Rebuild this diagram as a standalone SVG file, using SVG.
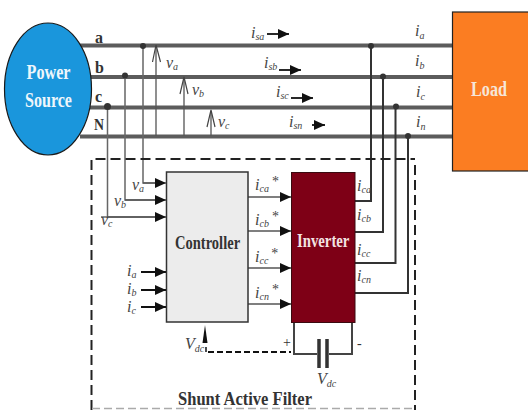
<svg xmlns="http://www.w3.org/2000/svg" width="528" height="410" viewBox="0 0 528 410">
<style>
text{font-family:"Liberation Serif","Times New Roman",serif;fill:#333}
.b{font-weight:bold}
.i{font-style:italic;font-size:16px;fill:#444}
.s{font-size:10px}
.bus{stroke:#5c5c5c;stroke-width:4;fill:none}
.th{stroke:#666;stroke-width:1.5;fill:none}
.dk{stroke:#333;stroke-width:2;fill:none}
.ar{stroke:#555;stroke-width:1.3;fill:none}
.dash{stroke:#222;stroke-width:2;fill:none;stroke-dasharray:10 5}
</style>
<defs>
<marker id="h" markerUnits="userSpaceOnUse" markerWidth="12" markerHeight="12" refX="11" refY="6" orient="auto"><path d="M0,1L11,6L0,11z" fill="#111"/></marker>
</defs>
<rect width="528" height="410" fill="#fff"/>
<g id="connectors">
<path class="bus" d="M80 45.500H452M90 77H452M90 107.500H452M80 136.500H452"/>
<path class="th" d="M143 46V183H155M125 76V200H155M107.500 107V217H155M101 217H108"/>
<path class="ar" d="M156 136V46M184 136V78M211 136V111"/>
<path fill="none" stroke="#444" stroke-width="1.200" d="M152.500 62L156 45L160.500 62M180 94L184 77L188 94M207 127L211 110L215 127"/>
<path class="dk" d="M371 46V201H355M383 76V232H355M395.500 107V263H355M408 136V293H355"/>
<g stroke="#111" stroke-width="1.800" fill="none">
<path d="M267 34H289" marker-end="url(#h)"/><path d="M279 70H301" marker-end="url(#h)"/><path d="M291 98H313" marker-end="url(#h)"/><path d="M312 125H325" marker-end="url(#h)"/>
<path d="M141 272H166" marker-end="url(#h)" stroke-width="2"/><path d="M141 290H166" marker-end="url(#h)" stroke-width="2"/><path d="M141 307H166" marker-end="url(#h)" stroke-width="2"/>
</g>
<path d="M205 325L202.500 343H207.500z" fill="#111"/>
<g class="ar" stroke-width="1.500">
<path d="M143 183H166" marker-end="url(#h)"/><path d="M125 200H166" marker-end="url(#h)"/><path d="M107 217H166" marker-end="url(#h)"/>
<path d="M248 197H291" marker-end="url(#h)"/><path d="M248 231H291" marker-end="url(#h)"/><path d="M248 268H291" marker-end="url(#h)"/><path d="M248 304H291" marker-end="url(#h)"/>
</g>
<path d="M208 352H291" fill="none" stroke="#111" stroke-width="2" stroke-dasharray="6 3"/>
<path d="M206 347V352" stroke="#111" stroke-width="1.500"/>
<path d="M294 323V354H317M329 354H352V323" stroke="#444" stroke-width="2" fill="none"/>
<path d="M319 339V368M327 339V368" stroke="#333" stroke-width="3.500"/>
<g fill="#333"><circle cx="143" cy="46" r="3"/><circle cx="125" cy="75.500" r="3"/><circle cx="107.500" cy="106.500" r="3.500"/><circle cx="371" cy="46" r="3"/><circle cx="383" cy="76.500" r="3"/><circle cx="396" cy="106.500" r="3"/><circle cx="408" cy="136" r="3"/></g>
</g>
<g id="filter-frame">
<path class="dash" d="M91.500 410V159H415"/>
<path class="dash" d="M415 165V410"/>
<path d="M92 408.500H415" stroke="#aaa" stroke-width="1.500" stroke-dasharray="8 4"/>
<text x="178" y="405" class="b" font-size="19" textLength="134" lengthAdjust="spacingAndGlyphs">Shunt Active Filter</text>
</g>
<g id="source">
<ellipse cx="48" cy="89" rx="43.500" ry="66" fill="#1a96dc" stroke="#1a1a1a" stroke-width="1.200"/>
<text x="26.500" y="79" class="b" font-size="20" textLength="44" lengthAdjust="spacingAndGlyphs" style="fill:#eef6fb">Power</text>
<text x="25" y="107" class="b" font-size="20" textLength="47" lengthAdjust="spacingAndGlyphs" style="fill:#eef6fb">Source</text>
</g>
<g id="load">
<rect x="452.500" y="12" width="80" height="159" fill="#fb7d22" stroke="#222" stroke-width="1.200"/>
<text x="471" y="96" class="b" font-size="20" textLength="36" lengthAdjust="spacingAndGlyphs" style="fill:#f6e6d8">Load</text>
</g>
<g id="controller">
<rect x="166.500" y="172" width="81.500" height="150" fill="#ececec" stroke="#333" stroke-width="1.500"/>
<text transform="translate(175 249) scale(.765 1)" class="b" font-size="19">Controller</text>
</g>
<g id="inverter">
<rect x="291.500" y="172.500" width="63.500" height="150" fill="#7e0016" stroke="#3a0a10" stroke-width="1"/>
<text transform="translate(297 247) scale(.776 1)" class="b" font-size="19" style="fill:#f3e3e3">Inverter</text>
</g>
<g id="labels">
<text x="95" y="43" class="b" font-size="16">a</text><text x="95" y="73" class="b" font-size="16">b</text><text x="95" y="102" class="b" font-size="16">c</text><text x="94" y="130" class="b" font-size="16" textLength="10" lengthAdjust="spacingAndGlyphs">N</text>
<text class="i" x="251" y="38">i<tspan class="s" dy="2">sa</tspan></text>
<text class="i" x="264" y="68">i<tspan class="s" dy="2">sb</tspan></text>
<text class="i" x="276" y="97">i<tspan class="s" dy="2">sc</tspan></text>
<text class="i" x="289" y="127">i<tspan class="s" dy="2">sn</tspan></text>
<text class="i" x="415" y="36">i<tspan class="s" dy="3">a</tspan></text>
<text class="i" x="415" y="66">i<tspan class="s" dy="3">b</tspan></text>
<text class="i" x="416" y="97">i<tspan class="s" dy="3">c</tspan></text>
<text class="i" x="416" y="127">i<tspan class="s" dy="3">n</tspan></text>
<text class="i" x="166" y="68">v<tspan class="s" dy="2">a</tspan></text>
<text class="i" x="192" y="95">v<tspan class="s" dy="2">b</tspan></text>
<text class="i" x="218" y="127">v<tspan class="s" dy="2">c</tspan></text>
<text class="i" x="132" y="190">v<tspan class="s" dy="2">a</tspan></text>
<text class="i" x="114" y="206">v<tspan class="s" dy="2">b</tspan></text>
<text class="i" x="101" y="225">v<tspan class="s" dy="2">c</tspan></text>
<text class="i" x="127" y="276">i<tspan class="s" dy="2">a</tspan></text>
<text class="i" x="127" y="294">i<tspan class="s" dy="2">b</tspan></text>
<text class="i" x="127" y="312">i<tspan class="s" dy="2">c</tspan></text>
<text class="i" x="255" y="190">i<tspan class="s" dy="2">ca</tspan><tspan dy="-6" dx="3" font-style="normal" font-size="14">*</tspan></text>
<text class="i" x="255" y="225">i<tspan class="s" dy="2">cb</tspan><tspan dy="-6" dx="3" font-style="normal" font-size="14">*</tspan></text>
<text class="i" x="255" y="262">i<tspan class="s" dy="2">cc</tspan><tspan dy="-6" dx="3" font-style="normal" font-size="14">*</tspan></text>
<text class="i" x="255" y="298">i<tspan class="s" dy="2">cn</tspan><tspan dy="-6" dx="3" font-style="normal" font-size="14">*</tspan></text>
<text class="i" x="357" y="191">i<tspan class="s" dy="2">ca</tspan></text>
<text class="i" x="357" y="220">i<tspan class="s" dy="2">cb</tspan></text>
<text class="i" x="357" y="255">i<tspan class="s" dy="2">cc</tspan></text>
<text class="i" x="357" y="281">i<tspan class="s" dy="2">cn</tspan></text>
<text class="i" x="185" y="349">V<tspan class="s" dy="3">dc</tspan></text>
<text class="i" x="317" y="384">V<tspan class="s" dy="3">dc</tspan></text>
<text x="283" y="347" font-size="14">+</text>
<text x="357" y="348" font-size="14">-</text>
</g>
</svg>
